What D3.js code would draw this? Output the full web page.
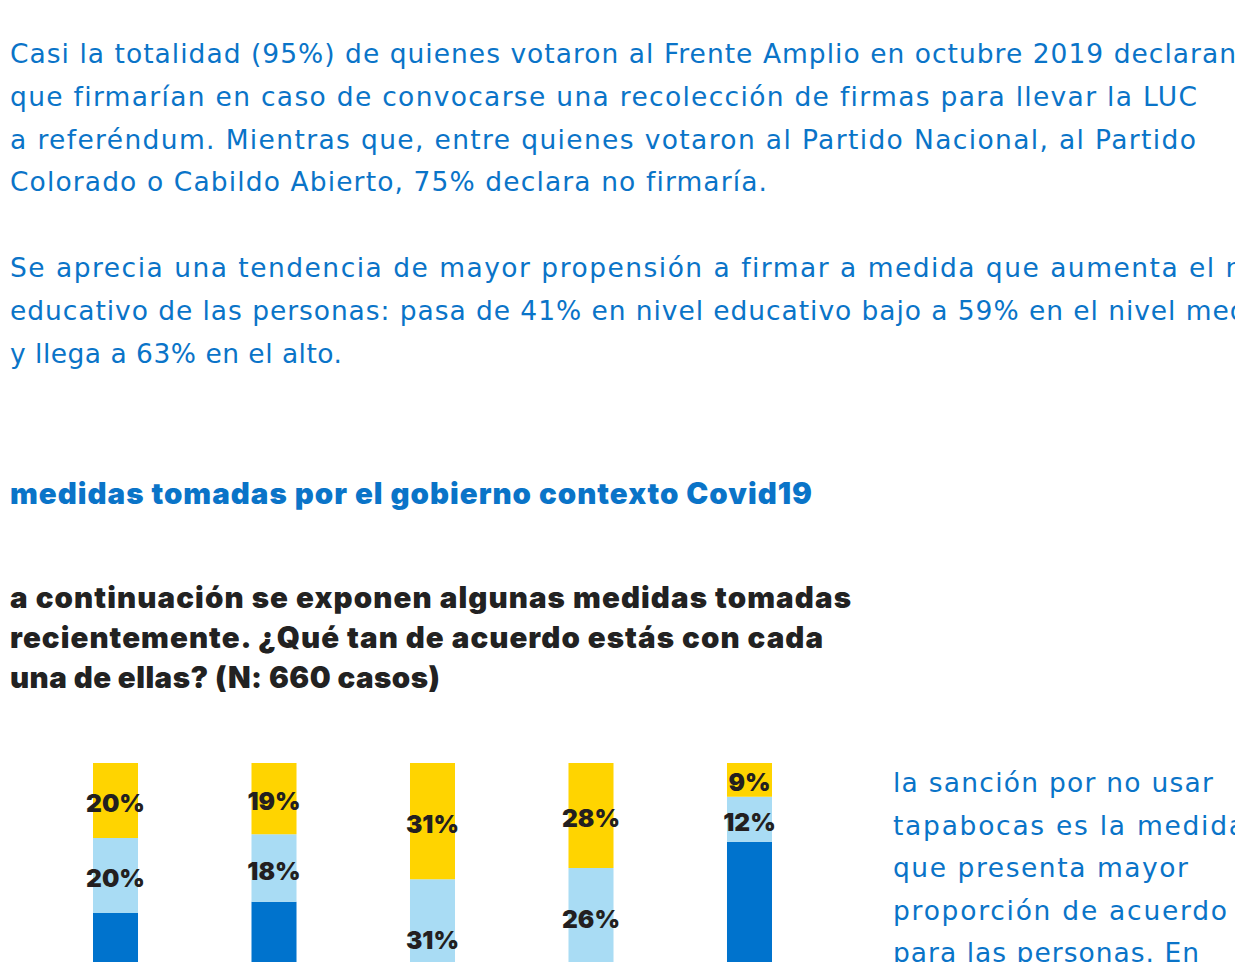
<!DOCTYPE html>
<html>
<head>
<meta charset="utf-8">
<script src="https://cdn.jsdelivr.net/npm/d3@7"></script>
<style>
  html, body { margin: 0; padding: 0; background: #fff; overflow: hidden; }
  svg { display: block; }
</style>
</head>
<body>
<svg id="page" width="1235" height="962"></svg>
<script>
// --- datos ---
const parrafo1 = [
  'Casi la totalidad (95%) de quienes votaron al Frente Amplio en octubre 2019 declaran',
  'que firmarían en caso de convocarse una recolección de firmas para llevar la LUC',
  'a referéndum. Mientras que, entre quienes votaron al Partido Nacional, al Partido',
  'Colorado o Cabildo Abierto, 75% declara no firmaría.'
]
const parrafo2 = [
  'Se aprecia una tendencia de mayor propensión a firmar a medida que aumenta el nivel',
  'educativo de las personas: pasa de 41% en nivel educativo bajo a 59% en el nivel medio',
  'y llega a 63% en el alto.'
]
const titulo = 'medidas tomadas por el gobierno contexto Covid19'
const pregunta = [
  'a continuación se exponen algunas medidas tomadas',
  'recientemente. ¿Qué tan de acuerdo estás con cada',
  'una de ellas? (N: 660 casos)'
]
const comentario = [
  'la sanción por no usar',
  'tapabocas es la medida',
  'que presenta mayor',
  'proporción de acuerdo',
  'para las personas. En'
]

// medidas (nombres no visibles en el recorte)
const medidas = ['medida 1', 'medida 2', 'medida 3', 'medida 4', 'medida 5']
const desacuerdo = [20, 19, 31, 28, 9]
const neutral = [20, 18, 31, 26, 12]
const acuerdo = [60, 63, 38, 46, 79]

const AZUL = '#0a74c8'
const colores = { acuerdo: '#0073cd', neutral: '#a9dcf4', desacuerdo: '#ffd400' }

const svg = d3.select('#page')

// Montserrat no está, así que ajustamos el espaciado para llegar al ancho del original
// (las líneas que se salen por la derecha llevan un ancho estimado)
const bloque = (lineas, opts) => {
  const g = svg.append('g')
  const nodos = lineas.map((t, i) => g.append('text')
    .attr('x', opts.x)
    .attr('y', opts.y + i * opts.lh)
    .attr('fill', opts.color)
    .attr('font-family', opts.font)
    .attr('font-weight', opts.weight)
    .attr('font-size', opts.size)
    .style('white-space', 'pre')
    .text(t))
  nodos.forEach((n, i) => {
    const nat = n.node().getComputedTextLength()
    n.attr('letter-spacing', (opts.widths[i] - nat) / Math.max(1, lineas[i].length - 1))
  })
}

const REG = "'DejaVu Sans', 'Noto Sans', sans-serif"
const BOLD = "Inter, 'Noto Sans', sans-serif"

bloque(parrafo1, { x: 10, y: 63, lh: 42.8, color: AZUL, font: REG, weight: 400, size: 26.5,
  widths: [1226, 1187, 1186, 757] })
bloque(parrafo2, { x: 10, y: 277, lh: 42.8, color: AZUL, font: REG, weight: 400, size: 26.5,
  widths: [1285, 1262, 332] })
bloque([titulo], { x: 10, y: 504, lh: 40, color: AZUL, font: BOLD, weight: 900, size: 29.5,
  widths: [802] })
bloque(pregunta, { x: 10, y: 608, lh: 40, color: '#222', font: BOLD, weight: 900, size: 29.5,
  widths: [841, 813, 429] })
bloque(comentario, { x: 893, y: 792, lh: 42.6, color: AZUL, font: REG, weight: 400, size: 26.5,
  widths: [320, 1245 - 893, 295, 334, 1199 - 893] })

// --- barras apiladas ---
const datos = medidas.map((m, i) => ({
  medida: m, acuerdo: acuerdo[i], neutral: neutral[i], desacuerdo: desacuerdo[i]
}))
const keys = ['acuerdo', 'neutral', 'desacuerdo']
const series = d3.stack().keys(keys)(datos)

const x = d3.scaleBand()
  .domain(medidas)
  .range([93, 772])
  .paddingInner(0.716)
  .paddingOuter(0)

// 100% = 375px, la barra sigue por debajo del borde de la ventana
const y = d3.scaleLinear().domain([0, 100]).range([1138, 763])

const capas = svg.append('g').selectAll('g')
  .data(series)
  .join('g')
  .attr('fill', d => colores[d.key])

capas.selectAll('rect')
  .data(d => d)
  .join('rect')
  .attr('x', d => x(d.data.medida))
  .attr('y', d => y(d[1]))
  .attr('width', x.bandwidth())
  .attr('height', d => y(d[0]) - y(d[1]))

const etiquetas = svg.append('g')
  .attr('font-family', BOLD)
  .attr('font-weight', 900)
  .attr('font-size', 24.5)
  .attr('fill', '#231f20')
  .attr('text-anchor', 'middle')

series.filter(s => s.key !== 'acuerdo').forEach(s => {
  etiquetas.selectAll(null)
    .data(s)
    .join('text')
    .attr('x', d => x(d.data.medida) + x.bandwidth() / 2)
    .attr('y', d => (y(d[0]) + y(d[1])) / 2 + 11.5)
    .text(d => (d[1] - d[0]) + '%')
})
etiquetas.selectAll(null)
  .data(series[0])
  .join('text')
  .attr('x', d => x(d.data.medida) + x.bandwidth() / 2)
  .attr('y', d => (y(d[0]) + y(d[1])) / 2 + 11.5)
  .attr('fill', '#fff')
  .text(d => (d[1] - d[0]) + '%')
</script>
</body>
</html>
